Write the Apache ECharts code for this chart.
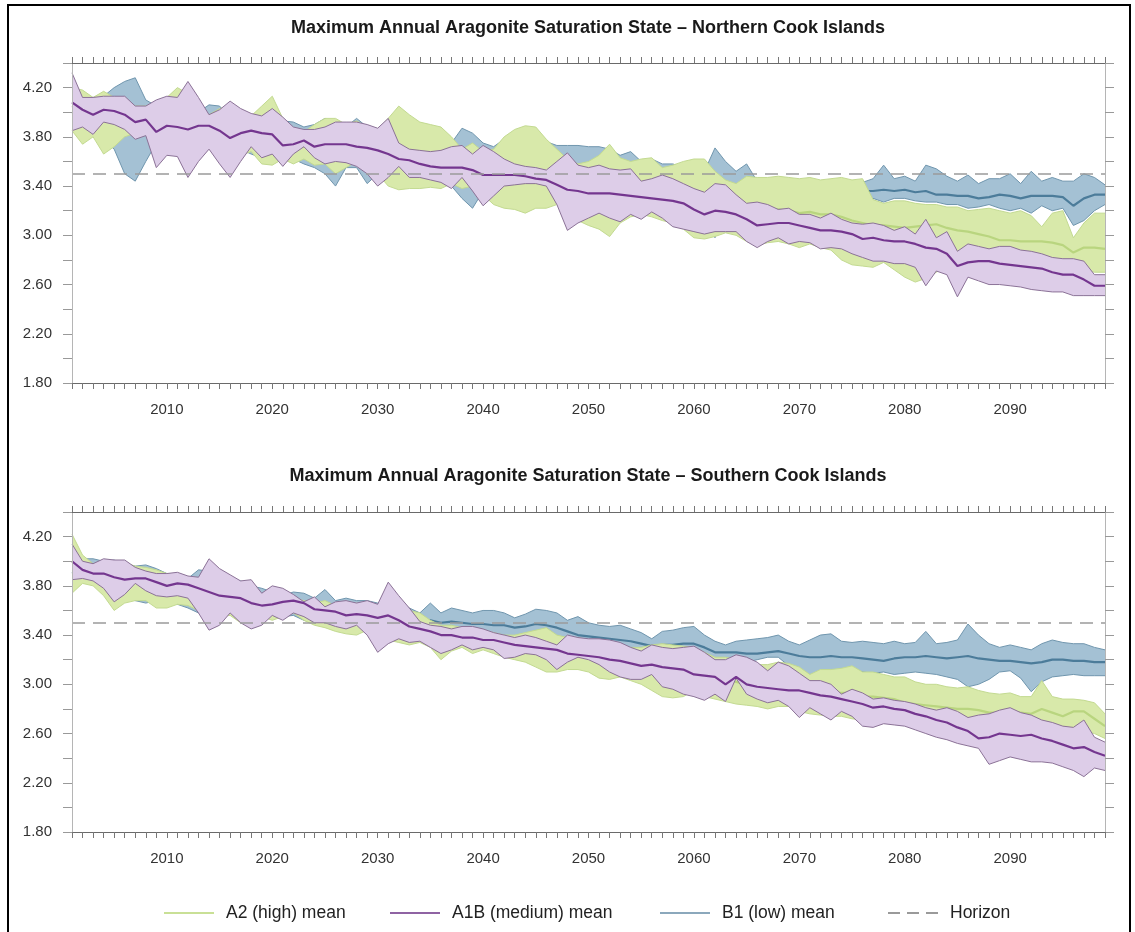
<!DOCTYPE html>
<html><head><meta charset="utf-8">
<script src="https://cdn.jsdelivr.net/npm/echarts@6/dist/echarts.min.js"></script>
<style>html,body{margin:0;padding:0;background:#fff}#c{width:1135px;height:932px}</style>
</head><body><div id="c"></div>
<script>
const years = [
2001,2002,2003,2004,2005,2006,2007,2008,2009,2010,
2011,2012,2013,2014,2015,2016,2017,2018,2019,2020,
2021,2022,2023,2024,2025,2026,2027,2028,2029,2030,
2031,2032,2033,2034,2035,2036,2037,2038,2039,2040,
2041,2042,2043,2044,2045,2046,2047,2048,2049,2050,
2051,2052,2053,2054,2055,2056,2057,2058,2059,2060,
2061,2062,2063,2064,2065,2066,2067,2068,2069,2070,
2071,2072,2073,2074,2075,2076,2077,2078,2079,2080,
2081,2082,2083,2084,2085,2086,2087,2088,2089,2090,
2091,2092,2093,2094,2095,2096,2097,2098,2099];
const xLabels = ['2010','2020','2030','2040','2050','2060','2070','2080','2090'];
const yLabels = ['1.80','2.20','2.60','3.00','3.40','3.80','4.20'];
const HORIZON = 3.5;
const titles = ['Maximum Annual Aragonite Saturation State \u2013 Northern Cook Islands',
                'Maximum Annual Aragonite Saturation State \u2013 Southern Cook Islands'];

// ---------- Northern Cook Islands ----------
const N_A2_hi = [
4.20,4.18,4.12,4.17,4.12,4.12,4.05,4.05,4.08,4.12,
4.20,4.15,4.00,3.98,4.03,4.05,4.00,3.97,4.05,4.13,
3.95,3.87,3.84,3.90,3.95,3.95,3.90,3.93,3.88,3.86,
3.95,4.05,3.98,3.92,3.90,3.88,3.80,3.70,3.75,3.68,
3.70,3.80,3.86,3.89,3.88,3.78,3.70,3.62,3.58,3.60,
3.65,3.74,3.63,3.60,3.62,3.63,3.55,3.57,3.60,3.62,
3.62,3.52,3.45,3.42,3.48,3.47,3.47,3.48,3.47,3.46,
3.47,3.45,3.46,3.47,3.45,3.46,3.29,3.26,3.28,3.28,
3.26,3.25,3.25,3.23,3.23,3.20,3.21,3.22,3.20,3.18,
3.20,3.16,3.07,3.18,3.20,2.98,3.10,3.18,3.18];
const N_A2_mean = [
4.05,4.00,3.98,3.97,3.95,3.96,3.94,3.95,3.93,3.90,
3.92,3.90,3.88,3.87,3.86,3.85,3.83,3.82,3.80,3.82,
3.78,3.73,3.72,3.73,3.74,3.72,3.72,3.74,3.70,3.68,
3.66,3.70,3.68,3.65,3.64,3.62,3.60,3.55,3.56,3.52,
3.50,3.52,3.54,3.53,3.52,3.48,3.46,3.40,3.36,3.35,
3.36,3.38,3.36,3.36,3.37,3.36,3.33,3.32,3.31,3.30,
3.29,3.26,3.24,3.22,3.22,3.20,3.20,3.21,3.20,3.18,
3.19,3.17,3.17,3.15,3.12,3.10,3.08,3.08,3.07,3.06,
3.07,3.08,3.09,3.06,3.04,3.03,3.01,2.99,2.96,2.96,
2.95,2.95,2.95,2.94,2.92,2.86,2.90,2.90,2.89];
const N_A2_lo = [
3.85,3.74,3.80,3.66,3.72,3.80,3.83,3.85,3.80,3.70,
3.75,3.70,3.80,3.78,3.70,3.70,3.65,3.68,3.58,3.57,
3.62,3.58,3.62,3.57,3.58,3.50,3.55,3.60,3.55,3.50,
3.40,3.37,3.38,3.38,3.39,3.38,3.42,3.38,3.40,3.33,
3.25,3.22,3.21,3.18,3.22,3.22,3.25,3.15,3.12,3.08,
3.05,2.99,3.10,3.15,3.17,3.15,3.12,3.10,3.05,2.98,
2.97,2.99,3.02,3.00,2.95,2.92,2.94,2.95,2.93,2.90,
2.93,2.90,2.88,2.80,2.76,2.75,2.74,2.78,2.72,2.66,
2.62,2.65,2.70,2.75,2.78,2.78,2.76,2.78,2.77,2.76,
2.76,2.75,2.75,2.74,2.73,2.72,2.72,2.70,2.70];

const N_A1B_hi = [
4.32,4.12,4.12,4.13,4.13,4.13,4.05,4.05,4.10,4.13,
4.12,4.25,4.12,3.98,4.02,4.09,4.03,3.99,3.97,4.03,
3.96,3.88,3.86,3.86,3.88,3.92,3.92,3.92,3.90,3.87,
3.95,3.75,3.70,3.69,3.68,3.69,3.72,3.73,3.66,3.73,
3.68,3.62,3.58,3.56,3.55,3.53,3.60,3.67,3.57,3.55,
3.57,3.54,3.53,3.54,3.44,3.46,3.49,3.46,3.42,3.38,
3.35,3.42,3.41,3.33,3.26,3.27,3.25,3.21,3.22,3.17,
3.17,3.14,3.18,3.13,3.10,3.09,3.10,3.08,3.04,3.07,
3.01,3.13,2.98,3.03,2.87,2.93,2.91,2.89,2.91,2.91,
2.88,2.87,2.85,2.82,2.81,2.81,2.79,2.68,2.68];
const N_A1B_mean = [
4.08,4.02,3.98,4.02,4.01,3.98,3.92,3.94,3.84,3.89,
3.88,3.86,3.89,3.89,3.85,3.79,3.83,3.85,3.83,3.82,
3.73,3.74,3.77,3.72,3.74,3.74,3.74,3.72,3.71,3.69,
3.66,3.62,3.61,3.58,3.56,3.55,3.55,3.55,3.53,3.49,
3.49,3.49,3.49,3.48,3.46,3.45,3.41,3.37,3.36,3.34,
3.34,3.34,3.33,3.32,3.31,3.30,3.29,3.28,3.26,3.21,
3.17,3.20,3.19,3.17,3.13,3.08,3.09,3.10,3.10,3.08,
3.06,3.04,3.04,3.03,3.01,2.97,2.98,2.96,2.95,2.95,
2.93,2.90,2.89,2.85,2.75,2.78,2.79,2.79,2.77,2.76,
2.75,2.74,2.73,2.70,2.68,2.68,2.64,2.59,2.59];
const N_A1B_lo = [
3.85,3.88,3.82,3.92,3.90,3.86,3.78,3.81,3.55,3.65,
3.64,3.47,3.60,3.70,3.58,3.47,3.60,3.72,3.63,3.66,
3.56,3.66,3.72,3.63,3.58,3.60,3.59,3.56,3.50,3.40,
3.47,3.56,3.47,3.47,3.45,3.43,3.38,3.47,3.36,3.24,
3.32,3.40,3.41,3.42,3.42,3.40,3.25,3.04,3.10,3.14,
3.18,3.14,3.11,3.17,3.13,3.19,3.14,3.07,3.05,3.03,
3.01,3.03,3.03,3.03,2.95,2.90,2.95,2.98,2.93,2.95,
2.94,2.89,2.90,2.89,2.85,2.82,2.79,2.79,2.77,2.77,
2.74,2.59,2.71,2.68,2.50,2.66,2.63,2.60,2.60,2.59,
2.58,2.56,2.55,2.54,2.54,2.51,2.51,2.51,2.51];

const N_B1_hi = [
4.12,4.12,4.12,4.13,4.20,4.25,4.28,4.10,4.05,4.00,
3.95,3.97,4.00,4.06,4.05,3.95,3.92,3.90,3.92,3.95,
3.93,3.92,3.88,3.90,3.95,3.90,3.88,3.95,3.88,3.85,
3.85,3.82,3.75,3.72,3.70,3.70,3.75,3.87,3.83,3.75,
3.72,3.78,3.85,3.83,3.80,3.76,3.73,3.73,3.73,3.72,
3.72,3.70,3.65,3.68,3.60,3.62,3.58,3.58,3.55,3.50,
3.52,3.71,3.60,3.52,3.58,3.44,3.44,3.44,3.43,3.43,
3.44,3.43,3.43,3.44,3.43,3.43,3.46,3.57,3.46,3.48,
3.44,3.57,3.54,3.48,3.44,3.49,3.42,3.46,3.46,3.50,
3.42,3.52,3.44,3.47,3.44,3.44,3.50,3.47,3.41];
const N_B1_mean = [
4.00,3.98,3.96,3.95,3.95,3.90,3.88,3.85,3.88,3.88,
3.85,3.83,3.82,3.88,3.82,3.80,3.80,3.78,3.76,3.78,
3.78,3.76,3.73,3.72,3.70,3.66,3.70,3.72,3.66,3.67,
3.68,3.65,3.60,3.58,3.58,3.56,3.56,3.58,3.52,3.55,
3.55,3.58,3.62,3.62,3.60,3.57,3.56,3.55,3.54,3.53,
3.53,3.50,3.48,3.49,3.45,3.45,3.44,3.42,3.40,3.36,
3.34,3.35,3.40,3.38,3.40,3.38,3.38,3.37,3.37,3.37,
3.37,3.37,3.36,3.37,3.36,3.36,3.36,3.37,3.36,3.37,
3.35,3.36,3.33,3.33,3.32,3.32,3.30,3.31,3.33,3.32,
3.30,3.32,3.32,3.32,3.31,3.24,3.30,3.33,3.33];
const N_B1_lo = [
3.88,3.85,3.80,3.78,3.70,3.50,3.44,3.60,3.75,3.80,
3.72,3.66,3.62,3.75,3.62,3.66,3.70,3.66,3.63,3.64,
3.68,3.62,3.58,3.55,3.50,3.40,3.55,3.55,3.42,3.50,
3.52,3.48,3.45,3.44,3.46,3.42,3.40,3.30,3.22,3.36,
3.38,3.40,3.42,3.42,3.40,3.38,3.40,3.38,3.36,3.35,
3.35,3.30,3.32,3.30,3.30,3.28,3.30,3.25,3.22,3.20,
3.15,2.98,3.20,3.25,3.30,3.30,3.30,3.30,3.29,3.30,
3.29,3.30,3.29,3.30,3.30,3.30,3.30,3.27,3.30,3.30,
3.28,3.27,3.27,3.25,3.25,3.22,3.23,3.25,3.22,3.20,
3.22,3.18,3.24,3.20,3.22,3.08,3.12,3.20,3.25];

// ---------- Southern Cook Islands ----------
const S_A2_hi = [
4.22,4.05,3.98,3.99,4.00,3.99,3.96,3.95,3.93,3.90,
3.88,3.85,3.80,3.80,3.78,3.75,3.77,3.74,3.72,3.74,
3.72,3.70,3.68,3.66,3.68,3.64,3.62,3.66,3.62,3.60,
3.58,3.62,3.60,3.58,3.52,3.48,3.48,3.46,3.45,3.44,
3.42,3.40,3.40,3.42,3.44,3.46,3.40,3.38,3.38,3.36,
3.36,3.35,3.30,3.30,3.30,3.32,3.33,3.32,3.31,3.30,
3.26,3.22,3.22,3.20,3.18,3.16,3.16,3.18,3.17,3.14,
3.08,3.12,3.12,3.13,3.15,3.10,3.10,3.08,3.06,3.06,
3.02,3.00,3.00,2.98,2.97,2.98,2.95,2.93,2.92,2.93,
2.90,2.90,3.03,2.90,2.88,2.88,2.87,2.85,2.76];
const S_A2_mean = [
4.00,3.95,3.90,3.87,3.85,3.84,3.83,3.82,3.80,3.78,
3.78,3.76,3.72,3.70,3.68,3.66,3.66,3.64,3.64,3.63,
3.64,3.64,3.60,3.57,3.57,3.54,3.52,3.53,3.53,3.50,
3.48,3.48,3.46,3.46,3.41,3.35,3.38,3.38,3.35,3.36,
3.34,3.31,3.30,3.30,3.29,3.28,3.25,3.25,3.25,3.23,
3.20,3.19,3.18,3.16,3.15,3.14,3.12,3.10,3.10,3.12,
3.08,3.05,3.04,3.02,3.00,2.99,2.98,3.00,2.99,2.96,
2.92,2.93,2.93,2.93,2.93,2.90,2.90,2.89,2.88,2.85,
2.84,2.83,2.82,2.81,2.80,2.80,2.79,2.77,2.77,2.78,
2.77,2.76,2.80,2.77,2.74,2.78,2.78,2.72,2.66];
const S_A2_lo = [
3.74,3.82,3.80,3.72,3.60,3.66,3.68,3.68,3.62,3.62,
3.65,3.64,3.60,3.58,3.55,3.56,3.50,3.52,3.55,3.52,
3.55,3.58,3.52,3.48,3.46,3.43,3.41,3.40,3.44,3.40,
3.36,3.34,3.32,3.34,3.30,3.20,3.27,3.30,3.25,3.28,
3.25,3.22,3.20,3.18,3.14,3.10,3.10,3.12,3.12,3.10,
3.05,3.04,3.06,3.03,3.00,2.95,2.90,2.89,2.90,2.95,
2.90,2.88,2.86,2.84,2.83,2.82,2.80,2.82,2.82,2.78,
2.76,2.75,2.74,2.74,2.72,2.71,2.70,2.70,2.70,2.68,
2.68,2.67,2.66,2.66,2.66,2.66,2.65,2.65,2.66,2.66,
2.65,2.65,2.64,2.63,2.62,2.62,2.62,2.60,2.56];

const S_A1B_hi = [
4.14,4.00,3.98,4.02,4.01,4.01,3.95,3.92,3.90,3.90,
3.91,3.88,3.87,4.02,3.94,3.89,3.84,3.85,3.74,3.80,
3.78,3.73,3.67,3.71,3.63,3.67,3.68,3.66,3.68,3.65,
3.83,3.72,3.62,3.51,3.48,3.47,3.45,3.47,3.47,3.45,
3.42,3.40,3.38,3.40,3.38,3.35,3.32,3.40,3.38,3.37,
3.37,3.36,3.34,3.30,3.27,3.32,3.30,3.29,3.30,3.31,
3.26,3.20,3.20,3.24,3.22,3.18,3.11,3.18,3.15,3.09,
3.03,3.03,3.00,2.92,2.96,2.93,2.88,2.89,2.87,2.86,
2.84,2.81,2.79,2.81,2.78,2.73,2.75,2.76,2.79,2.81,
2.77,2.75,2.71,2.69,2.66,2.65,2.71,2.57,2.53];
const S_A1B_mean = [
4.00,3.93,3.90,3.90,3.87,3.85,3.86,3.86,3.83,3.80,
3.82,3.81,3.78,3.75,3.72,3.71,3.70,3.66,3.64,3.65,
3.67,3.68,3.66,3.61,3.60,3.59,3.56,3.57,3.56,3.54,
3.56,3.52,3.47,3.45,3.43,3.40,3.40,3.38,3.38,3.36,
3.36,3.34,3.32,3.31,3.30,3.29,3.28,3.25,3.24,3.23,
3.22,3.20,3.19,3.17,3.15,3.16,3.14,3.13,3.12,3.08,
3.07,3.06,3.00,3.06,3.00,2.98,2.97,2.96,2.95,2.95,
2.93,2.91,2.90,2.88,2.86,2.84,2.81,2.82,2.80,2.79,
2.76,2.74,2.71,2.69,2.65,2.62,2.56,2.57,2.60,2.59,
2.58,2.59,2.56,2.54,2.51,2.48,2.49,2.45,2.42];
const S_A1B_lo = [
3.85,3.86,3.84,3.78,3.67,3.73,3.82,3.76,3.72,3.71,
3.72,3.70,3.58,3.44,3.48,3.58,3.50,3.45,3.48,3.56,
3.52,3.58,3.55,3.50,3.50,3.47,3.45,3.48,3.40,3.26,
3.33,3.37,3.34,3.35,3.30,3.25,3.28,3.32,3.28,3.30,
3.28,3.21,3.22,3.25,3.24,3.20,3.12,3.18,3.22,3.20,
3.16,3.10,3.06,3.04,3.04,3.08,2.98,2.96,2.92,2.90,
2.87,2.92,2.86,3.05,2.92,2.88,2.85,2.87,2.82,2.73,
2.81,2.76,2.71,2.78,2.74,2.66,2.65,2.68,2.67,2.66,
2.63,2.60,2.57,2.55,2.52,2.50,2.48,2.35,2.38,2.41,
2.39,2.37,2.37,2.36,2.33,2.30,2.25,2.32,2.30];

const S_B1_hi = [
4.05,4.02,4.02,4.00,4.01,3.98,3.96,3.97,3.94,3.90,
3.90,3.86,3.93,3.92,3.90,3.86,3.84,3.80,3.78,3.75,
3.72,3.75,3.74,3.70,3.77,3.68,3.70,3.68,3.68,3.66,
3.70,3.68,3.62,3.58,3.66,3.58,3.62,3.60,3.58,3.60,
3.60,3.58,3.54,3.57,3.61,3.60,3.58,3.52,3.55,3.50,
3.48,3.47,3.48,3.45,3.42,3.37,3.43,3.44,3.46,3.47,
3.40,3.35,3.32,3.35,3.36,3.37,3.38,3.40,3.35,3.32,
3.36,3.40,3.41,3.35,3.34,3.35,3.34,3.33,3.35,3.33,
3.34,3.43,3.33,3.34,3.36,3.49,3.40,3.33,3.30,3.32,
3.30,3.28,3.33,3.36,3.34,3.33,3.33,3.30,3.28];
const S_B1_mean = [
3.90,3.93,3.93,3.90,3.88,3.87,3.85,3.83,3.82,3.80,
3.80,3.77,3.76,3.73,3.72,3.72,3.70,3.67,3.67,3.66,
3.65,3.65,3.64,3.61,3.60,3.58,3.58,3.57,3.56,3.55,
3.57,3.56,3.54,3.51,3.52,3.50,3.51,3.50,3.49,3.49,
3.48,3.48,3.46,3.47,3.49,3.48,3.46,3.43,3.40,3.39,
3.38,3.37,3.36,3.35,3.33,3.31,3.32,3.32,3.33,3.33,
3.30,3.26,3.26,3.26,3.25,3.25,3.26,3.27,3.25,3.23,
3.22,3.22,3.23,3.22,3.22,3.21,3.20,3.19,3.21,3.22,
3.22,3.23,3.22,3.21,3.22,3.23,3.21,3.20,3.19,3.19,
3.18,3.17,3.18,3.20,3.20,3.19,3.19,3.18,3.18];
const S_B1_lo = [
3.78,3.84,3.85,3.80,3.72,3.75,3.68,3.66,3.68,3.70,
3.65,3.62,3.58,3.52,3.52,3.60,3.55,3.55,3.58,3.56,
3.55,3.56,3.52,3.50,3.48,3.45,3.44,3.45,3.46,3.45,
3.45,3.47,3.45,3.45,3.44,3.43,3.42,3.41,3.42,3.40,
3.40,3.40,3.38,3.38,3.40,3.40,3.38,3.36,3.30,3.28,
3.27,3.25,3.22,3.22,3.21,3.20,3.22,3.22,3.23,3.22,
3.20,3.18,3.18,3.17,3.18,3.20,3.22,3.22,3.15,3.08,
3.03,3.05,3.08,3.10,3.11,3.10,3.09,3.10,3.08,3.09,
3.10,3.09,3.08,3.06,3.04,2.98,3.00,3.04,3.10,3.11,
3.05,2.94,3.02,3.06,3.07,3.08,3.07,3.07,3.07];

// ---------- styling ----------
const FONT = '"Liberation Sans", Arial, Helvetica, sans-serif';
const COL = {
  A2:  {fill: '#d8e9aa', edge: '#c3da91', mean: '#b9d57f', legend: '#c9e096', z: 3},
  A1B: {fill: '#ddcde8', edge: '#8b7297', mean: '#74368f', legend: '#8f63a3', z: 4},
  B1:  {fill: '#a4c1d4', edge: '#7096ae', mean: '#4c7c9a', legend: '#8ba8bc', z: 2}
};
const NAMES = {A2: 'A2 (high) mean', A1B: 'A1B (medium) mean', B1: 'B1 (low) mean'};

function diff(hi, lo) { return hi.map((v, i) => Math.round((v - lo[i]) * 1000) / 1000); }

function band(key, gi, lo, mean, hi) {
  const c = COL[key];
  const ax = {xAxisIndex: gi * 2, yAxisIndex: gi * 2};
  const stk = 'stk' + gi + key;
  return [
    Object.assign({type: 'line', name: key + '_lo' + gi, data: lo, stack: stk, symbol: 'none',
      lineStyle: {opacity: 0}, silent: true, z: c.z}, ax),
    Object.assign({type: 'line', name: key + '_band' + gi, data: diff(hi, lo), stack: stk, symbol: 'none',
      lineStyle: {color: c.edge, width: 1}, areaStyle: {color: c.fill, opacity: 1}, silent: true, z: c.z}, ax),
    Object.assign({type: 'line', name: key + '_edge' + gi, data: lo, symbol: 'none',
      lineStyle: {color: c.edge, width: 1}, silent: true, z: c.z}, ax),
    Object.assign({type: 'line', name: NAMES[key], data: mean, symbol: 'none', color: c.legend,
      lineStyle: {color: c.mean, width: 2.2}, silent: true, z: c.z}, ax)
  ];
}

function horizon(gi) {
  return {type: 'line', name: 'Horizon', data: [], xAxisIndex: gi * 2, yAxisIndex: gi * 2,
    symbol: 'none', color: '#9a9a9a', lineStyle: {color: '#9a9a9a', width: 1.5, type: [12, 8]}, z: 6,
    markLine: {silent: true, symbol: 'none', label: {show: false}, z: 6,
      lineStyle: {color: '#9a9a9a', width: 1.6, type: [13, 8]},
      data: [{yAxis: HORIZON}]}};
}

const series = [];
[[N_B1_lo, N_B1_mean, N_B1_hi, N_A2_lo, N_A2_mean, N_A2_hi, N_A1B_lo, N_A1B_mean, N_A1B_hi],
 [S_B1_lo, S_B1_mean, S_B1_hi, S_A2_lo, S_A2_mean, S_A2_hi, S_A1B_lo, S_A1B_mean, S_A1B_hi]]
.forEach((d, gi) => {
  series.push(...band('B1', gi, d[0], d[1], d[2]));
  series.push(...band('A2', gi, d[3], d[4], d[5]));
  series.push(...band('A1B', gi, d[6], d[7], d[8]));
  series.push(horizon(gi));
});

const grids = [
  {left: 72, right: 30, top: 63, height: 320},
  {left: 72, right: 30, top: 512, height: 320}
];
const xAxes = [], yAxes = [];
grids.forEach((g, gi) => {
  const common = {gridIndex: gi, type: 'category', data: years, boundaryGap: false, z: 8,
    axisLine: {show: true, lineStyle: {color: '#6a6a6a', width: 1}},
    splitLine: {show: false}};
  xAxes.push(Object.assign({}, common, {position: 'bottom',
    axisTick: {show: true, interval: 0, length: 6, lineStyle: {color: '#777'}},
    axisLabel: {show: true, interval: (i, v) => xLabels.indexOf(String(v)) >= 0, margin: 19,
      fontFamily: FONT, fontSize: 15, color: '#333'}}));
  xAxes.push(Object.assign({}, common, {position: 'top',
    axisTick: {show: true, interval: 0, length: 6, lineStyle: {color: '#777'}},
    axisLabel: {show: false}}));
  const ycommon = {gridIndex: gi, type: 'value', min: 1.8, max: 4.4, interval: 0.2, z: 8,
    splitLine: {show: false},
    axisLine: {show: true, lineStyle: {color: '#b5b5b5', width: 1}},
    axisTick: {show: true, length: 9, lineStyle: {color: '#999'}}};
  yAxes.push(Object.assign({}, ycommon, {position: 'left',
    axisLabel: {show: true, margin: 20, fontFamily: FONT, fontSize: 15, color: '#333',
      formatter: v => { const s = v.toFixed(2); return yLabels.indexOf(s) >= 0 ? s : ''; }}}));
  yAxes.push(Object.assign({}, ycommon, {position: 'right', axisLabel: {show: false}}));
});

const legendItems = [
  {name: NAMES.A2, icon: 'rect', left: 164},
  {name: NAMES.A1B, icon: 'rect', left: 390},
  {name: NAMES.B1, icon: 'rect', left: 660},
  {name: 'Horizon', icon: 'path://M0,0h12v2h-12z M19,0h12v2h-12z M38,0h12v2h-12z', left: 888}
];
const legends = legendItems.map(it => ({
  data: [{name: it.name, icon: it.icon}],
  left: it.left, top: 904, itemWidth: 50, itemHeight: 2, padding: 0,
  textStyle: {fontFamily: FONT, fontSize: 17.5, color: '#222', padding: [0, 0, 0, 7]},
  selectedMode: false
}));

const chart = echarts.init(document.getElementById('c'), null, {renderer: 'canvas'});
chart.setOption({
  animation: false,
  backgroundColor: '#fff',
  grid: grids,
  xAxis: xAxes,
  yAxis: yAxes,
  legend: legends,
  graphic: [
    {type: 'rect', shape: {x: 8, y: 5, width: 1122, height: 960}, silent: true,
      style: {fill: 'none', stroke: '#000', lineWidth: 2}, z: 100},
    {type: 'text', x: 588, y: 28, silent: true,
      style: {text: titles[0], align: 'center', verticalAlign: 'middle',
        font: 'bold 18px ' + FONT, fill: '#1a1a1a'}},
    {type: 'text', x: 588, y: 476, silent: true,
      style: {text: titles[1], align: 'center', verticalAlign: 'middle',
        font: 'bold 18px ' + FONT, fill: '#1a1a1a'}}
  ],
  series: series
});
</script>
</body></html>
